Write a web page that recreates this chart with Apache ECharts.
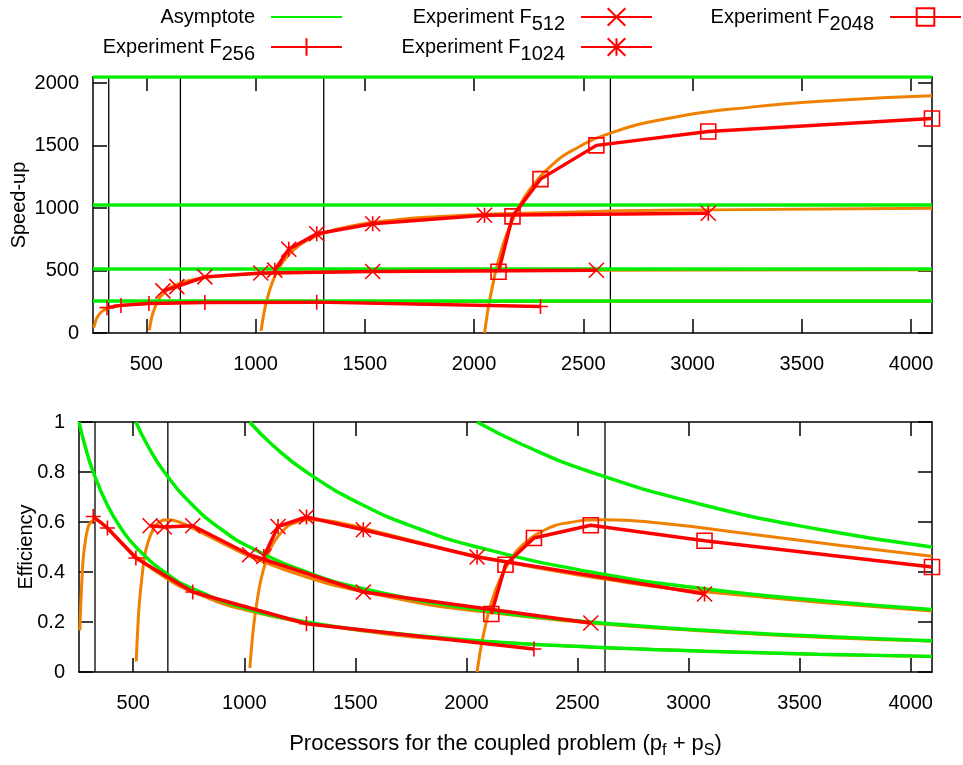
<!DOCTYPE html>
<html>
<head>
<meta charset="utf-8">
<title>Speed-up and efficiency of the coupled problem</title>
<script src="https://cdn.jsdelivr.net/npm/echarts@6.0.0/dist/echarts.min.js"></script>
<style>
  html, body { margin: 0; padding: 0; background: #ffffff; }
  #main { width: 963px; height: 765px; }
</style>
</head>
<body>
<div id="main"></div>
<script>
// ---- data ----
// x axis: processors for the coupled problem (pf + ps)
var xTicks = [500, 1000, 1500, 2000, 2500, 3000, 3500, 4000];
var speedTicks = [0, 500, 1000, 1500, 2000];
// vertical reference lines
var peakProcs = [328, 656, 1312, 2624];
// asymptotes (speed-up levels)
var asymptoteLevels = [256, 512, 1024, 2048];

// experiments
var procs256 = [320, 384, 512, 768, 1280, 2304];
var procs512 = [576, 640, 768, 1024, 1536, 2560];
var procs1024 = [1088, 1152, 1280, 1536, 2048, 3072];
var procs2048 = [2112, 2176, 2304, 2560, 3072, 4096];

var speedup256 = [203, 221, 236, 244, 247, 212];
var speedup512 = [337, 371, 449, 480, 492, 502];
var speedup1024 = [503, 670, 794, 874, 942, 958];
var speedup2048 = [490, 933, 1231, 1501, 1612, 1716];

var eff256 = [0.622, 0.576, 0.456, 0.320, 0.193, 0.092];
var eff512 = [0.585, 0.580, 0.585, 0.469, 0.320, 0.196];
var eff1024 = [0.462, 0.582, 0.620, 0.569, 0.460, 0.312];
var eff2048 = [0.232, 0.429, 0.536, 0.587, 0.525, 0.420];

// model curves (orange)
var modelProcs256 = [260, 261, 264, 269, 275, 282, 294, 307, 328, 358, 410, 461, 512, 640, 768, 1024, 1536, 2048, 3072, 4096];
var modelSpeed256 = [43, 52, 70, 99, 125, 143, 168, 183, 200, 214, 226, 233, 237, 243, 246, 249, 252, 253, 254, 255];
var modelEff256 = [0.166, 0.198, 0.267, 0.369, 0.453, 0.508, 0.569, 0.597, 0.609, 0.596, 0.552, 0.506, 0.463, 0.380, 0.321, 0.244, 0.164, 0.124, 0.083, 0.062];

var modelProcs512 = [514, 517, 522, 527, 538, 550, 563, 589, 614, 655, 717, 819, 922, 1024, 1280, 1536, 2048, 3072, 4096];
var modelSpeed512 = [22, 57, 103, 141, 198, 249, 286, 335, 367, 399, 428, 452, 466, 475, 486, 493, 499, 504, 506];
var modelEff512 = [0.042, 0.111, 0.198, 0.267, 0.369, 0.453, 0.508, 0.569, 0.597, 0.609, 0.596, 0.552, 0.506, 0.463, 0.380, 0.321, 0.244, 0.164, 0.124];

var modelProcs1024 = [1025, 1029, 1034, 1044, 1055, 1075, 1101, 1126, 1178, 1229, 1311, 1434, 1638, 1843, 2048, 2560, 3072, 4096];
var modelSpeed1024 = [17, 61, 115, 207, 282, 397, 498, 572, 670, 734, 798, 855, 905, 932, 949, 973, 985, 998];
var modelEff1024 = [0.016, 0.059, 0.111, 0.198, 0.267, 0.369, 0.453, 0.508, 0.569, 0.597, 0.609, 0.596, 0.552, 0.506, 0.463, 0.380, 0.321, 0.244];

var modelProcs2048 = [2048, 2058, 2068, 2089, 2109, 2150, 2202, 2253, 2355, 2458, 2621, 2867, 3277, 3686, 4096];
var modelSpeed2048 = [0, 122, 230, 413, 563, 793, 997, 1143, 1341, 1468, 1597, 1710, 1809, 1864, 1898];
var modelEff2048 = [0, 0.059, 0.111, 0.198, 0.267, 0.369, 0.453, 0.508, 0.569, 0.597, 0.609, 0.596, 0.552, 0.506, 0.463];

// efficiency asymptotes (green)
var asymProcs256 = [256, 282, 320, 384, 448, 512, 640, 768, 1024, 1280, 1536, 2048, 2560, 3072, 3584, 4096];
var asymEff256 = [1, 0.908, 0.8, 0.667, 0.571, 0.5, 0.4, 0.333, 0.25, 0.2, 0.167, 0.125, 0.1, 0.0833, 0.0714, 0.0625];
var asymProcs512 = [512, 563, 640, 768, 896, 1024, 1280, 1536, 2048, 2560, 3072, 3584, 4096];
var asymEff512 = [1, 0.909, 0.8, 0.667, 0.571, 0.5, 0.4, 0.333, 0.25, 0.2, 0.167, 0.143, 0.125];
var asymProcs1024 = [1024, 1126, 1280, 1536, 1792, 2048, 2560, 3072, 3584, 4096];
var asymEff1024 = [1, 0.909, 0.8, 0.667, 0.571, 0.5, 0.4, 0.333, 0.286, 0.25];
var asymProcs2048 = [2048, 2253, 2560, 3072, 3584, 4096];
var asymEff2048 = [1, 0.909, 0.8, 0.667, 0.571, 0.5];

// ---- styles ----
var FONT = "'Liberation Sans', Arial, Helvetica, sans-serif";
var GREEN = '#00ee00';
var RED = '#ff0000';
var ORANGE = '#f08000';
var X_MIN = 256, X_MAX = 4096;

var plusIcon = 'path://M5,0 L5,10 M0,5 L10,5';
var crossIcon = 'path://M0,0 L10,10 M10,0 L0,10';
var starIcon = 'path://M0,0 L10,10 M10,0 L0,10 M5,0 L5,10';
var squareIcon = 'path://M0,0 L10,0 L10,10 L0,10 Z';

function pairs(xs, ys) {
  return xs.map(function (x, i) { return [x, ys[i]]; });
}

var experiments = [
  {name: 'Experiment F256', procs: procs256, speed: speedup256, eff: eff256, symbol: plusIcon},
  {name: 'Experiment F512', procs: procs512, speed: speedup512, eff: eff512, symbol: crossIcon},
  {name: 'Experiment F1024', procs: procs1024, speed: speedup1024, eff: eff1024, symbol: starIcon},
  {name: 'Experiment F2048', procs: procs2048, speed: speedup2048, eff: eff2048, symbol: squareIcon}
];
var models = [
  {procs: modelProcs256, speed: modelSpeed256, eff: modelEff256},
  {procs: modelProcs512, speed: modelSpeed512, eff: modelEff512},
  {procs: modelProcs1024, speed: modelSpeed1024, eff: modelEff1024},
  {procs: modelProcs2048, speed: modelSpeed2048, eff: modelEff2048}
];
var effAsymptotes = [
  pairs(asymProcs256, asymEff256),
  pairs(asymProcs512, asymEff512),
  pairs(asymProcs1024, asymEff1024),
  pairs(asymProcs2048, asymEff2048)
];

var series = [];

// two panels: 0 = speed-up, 1 = efficiency
[0, 1].forEach(function (panel) {
  var xi = panel * 2, yi = panel * 2;
  var yMax = panel === 0 ? 2048 : 1;

  // black vertical lines
  peakProcs.forEach(function (p) {
    series.push({
      type: 'line', xAxisIndex: xi, yAxisIndex: yi, z: 1, silent: true,
      data: [[p, 0], [p, yMax]], symbol: 'none',
      lineStyle: {color: '#000', width: 1.3}
    });
  });

  // model curves
  models.forEach(function (m) {
    series.push({
      type: 'line', xAxisIndex: xi, yAxisIndex: yi, z: 2, silent: true,
      data: pairs(m.procs, panel === 0 ? m.speed : m.eff),
      symbol: 'none', smooth: 0.5,
      lineStyle: {color: ORANGE, width: 3}
    });
  });

  // asymptotes
  asymptoteLevels.forEach(function (lv, k) {
    series.push({
      name: 'Asymptote', type: 'line', xAxisIndex: xi, yAxisIndex: yi, z: 3,
      data: panel === 0 ? [[X_MIN, lv], [X_MAX, lv]] : effAsymptotes[k],
      symbol: 'none', smooth: panel === 0 ? false : 0.5,
      itemStyle: {color: GREEN},
      lineStyle: {color: GREEN, width: 3.5}
    });
  });

  // experiments
  experiments.forEach(function (e) {
    series.push({
      name: e.name, type: 'line', xAxisIndex: xi, yAxisIndex: yi, z: 4,
      data: pairs(e.procs, panel === 0 ? e.speed : e.eff),
      symbol: e.symbol, symbolSize: 15, showAllSymbol: true,
      itemStyle: {color: 'rgba(0,0,0,0)', borderColor: RED, borderWidth: 1.6},
      lineStyle: {color: RED, width: 3.5}
    });
  });
});

function plainNumber(v) {
  return String(v);
}

function xAxisFor(grid, pos, labels, name) {
  return {
    gridIndex: grid, type: 'value', position: pos, min: X_MIN, max: X_MAX,
    name: name || '', nameLocation: 'middle', nameGap: 60, nameMoveOverlap: false,
    nameTextStyle: {
      color: '#000', fontSize: 22, fontFamily: FONT,
      rich: {
        m: {color: '#000', fontSize: 22, fontFamily: FONT, lineHeight: 24, verticalAlign: 'middle'},
        s: {color: '#000', fontSize: 16, fontFamily: FONT, lineHeight: 17, padding: [13, 0, 0, 0], verticalAlign: 'middle'}
      }
    },
    axisLine: {show: true, onZero: false, lineStyle: {color: '#000', width: 1.5}},
    axisTick: {show: true, inside: true, length: 14, customValues: xTicks, lineStyle: {color: '#000', width: 1.5}},
    axisLabel: {show: labels, customValues: xTicks, margin: 21, formatter: plainNumber,
      color: '#000', fontSize: 20, fontFamily: FONT},
    splitLine: {show: false}
  };
}

function yAxisFor(grid, pos, labels, max, ticks, name, gap) {
  var ax = {
    gridIndex: grid, type: 'value', position: pos, min: 0, max: max,
    name: name || '', nameLocation: 'middle', nameGap: gap || 0, nameRotate: 90, nameMoveOverlap: false,
    nameTextStyle: {color: '#000', fontSize: 20, fontFamily: FONT},
    axisLine: {show: true, onZero: false, lineStyle: {color: '#000', width: 1.5}},
    axisTick: {show: true, inside: true, length: 14, lineStyle: {color: '#000', width: 1.5}},
    axisLabel: {show: labels, margin: 14, formatter: plainNumber, color: '#000', fontSize: 20, fontFamily: FONT},
    splitLine: {show: false}
  };
  if (ticks) {
    ax.axisTick.customValues = ticks;
    ax.axisLabel.customValues = ticks;
  } else {
    ax.interval = 0.2;
  }
  return ax;
}

function legendFormatter(name) {
  var m = name.match(/^(Experiment F)(\d+)$/);
  return m ? '{main|' + m[1] + '}{sub|' + m[2] + '}' : '{main|' + name + '}';
}

function legendAt(name, right, top, hideSymbol) {
  var item = {name: name};
  if (hideSymbol) {
    item.itemStyle = {opacity: 0};
  }
  return {
    data: [item], right: right, top: top, align: 'right', orient: 'horizontal',
    padding: 0, itemWidth: 71, itemHeight: 22, itemGap: 0, selectedMode: false,
    formatter: legendFormatter,
    textStyle: {
      color: '#000', fontSize: 20, fontFamily: FONT, padding: [0, 11, 0, 0],
      rich: {
        main: {color: '#000', fontSize: 20, fontFamily: FONT, lineHeight: 22, verticalAlign: 'middle'},
        sub: {color: '#000', fontSize: 20, fontFamily: FONT, lineHeight: 22, padding: [14, 0, 0, 0], verticalAlign: 'middle'}
      }
    }
  };
}

var chart = echarts.init(document.getElementById('main'), null, {renderer: 'canvas'});

var option = {
  animation: false,
  backgroundColor: '#ffffff',
  legend: [
    legendAt('Asymptote', 620, 7, true),
    legendAt('Experiment F256', 620, 30),
    legendAt('Experiment F512', 310, 0),
    legendAt('Experiment F1024', 310, 30),
    legendAt('Experiment F2048', 1, 0)
  ],
  grid: [
    {left: 93, right: 31, top: 77, height: 256, outerBoundsMode: 'none', containLabel: false},
    {left: 79, right: 31, top: 422, height: 250, outerBoundsMode: 'none', containLabel: false}
  ],
  xAxis: [
    xAxisFor(0, 'bottom', true),
    xAxisFor(0, 'top', false),
    xAxisFor(1, 'bottom', true, '{m|Processors for the coupled problem (p}{s|f}{m| + p}{s|S}{m|)}'),
    xAxisFor(1, 'top', false)
  ],
  yAxis: [
    yAxisFor(0, 'left', true, 2048, speedTicks, 'Speed-up', 64),
    yAxisFor(0, 'right', false, 2048, speedTicks),
    yAxisFor(1, 'left', true, 1, null, 'Efficiency', 43),
    yAxisFor(1, 'right', false, 1, null)
  ],
  series: series
};

chart.setOption(option);
</script>
</body>
</html>
